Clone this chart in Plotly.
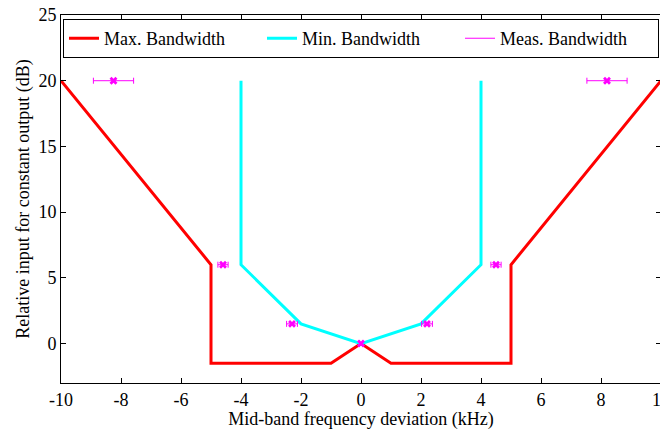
import plotly.graph_objects as go

# Data
max_x = [-10, -5, -5, -1, 0, 1, 5, 5, 10]
max_y = [20, 6, -1.5, -1.5, 0, -1.5, -1.5, 6, 20]
min_x = [-4, -4, -2, 0, 2, 4, 4]
min_y = [20, 6, 1.5, 0, 1.5, 6, 20]
meas_x = [-8.25, -4.6, -2.3, 0, 2.2, 4.5, 8.2]
meas_y = [20, 6, 1.5, 0, 1.5, 6, 20]
meas_err = [0.67, 0.17, 0.18, 0.05, 0.18, 0.17, 0.67]

x_ticks = [-10, -8, -6, -4, -2, 0, 2, 4, 6, 8, 10]
x_labels = ["-10", "-8", "-6", "-4", "-2", "0", "2", "4", "6", "8", "10"]
y_ticks = [0, 5, 10, 15, 20, 25]
y_labels = ["0", "5", "10", "15", "20", "25"]

FONT = "Liberation Serif, Times New Roman, serif"
FS = 18

fig = go.Figure()
fig.add_trace(go.Scatter(x=max_x, y=max_y, mode="lines", name="Max. Bandwidth",
                         line=dict(color="#ff0000", width=3)))
fig.add_trace(go.Scatter(x=min_x, y=min_y, mode="lines", name="Min. Bandwidth",
                         line=dict(color="#00ffff", width=3)))
fig.add_trace(go.Scatter(x=meas_x, y=meas_y, mode="markers", name="Meas. Bandwidth",
                         showlegend=False,
                         marker=dict(symbol="x", size=7, color="#ff00ff",
                                     line=dict(width=0)),
                         error_x=dict(type="data", array=meas_err, visible=True,
                                      color="#ff00ff", thickness=1, width=3)))
fig.add_trace(go.Scatter(x=[None], y=[None], mode="lines", name="Meas. Bandwidth",
                         line=dict(color="#ff00ff", width=1)))

axis_common = dict(showgrid=False, zeroline=False, showline=True, linecolor="black",
                   linewidth=1, mirror="ticks", ticks="inside", ticklen=5,
                   tickcolor="black", ticklabeloverflow="allow", automargin=False,
                   tickfont=dict(family=FONT, size=FS, color="black"))

fig.update_xaxes(range=[-10, 10], tickvals=x_ticks, ticktext=x_labels,
                 title=dict(text="Mid-band frequency deviation (kHz)",
                            font=dict(family=FONT, size=FS, color="black"), standoff=1),
                 **axis_common)
fig.update_yaxes(range=[-3, 25], tickvals=y_ticks, ticktext=y_labels,
                 title=dict(text="Relative input for constant output (dB)",
                            font=dict(family=FONT, size=FS, color="black"), standoff=4),
                 **axis_common)

# the page body has an 8px margin, so the figure is sized to fit the window
fig.update_layout(
    width=660, height=422,
    margin=dict(l=53, r=7, t=7, b=47),
    paper_bgcolor="white", plot_bgcolor="white",
    font=dict(family=FONT, size=FS, color="black"),
    legend=dict(orientation="h", x=0.5, xanchor="center", y=0.989, yanchor="top",
                bgcolor="white", bordercolor="black", borderwidth=1,
                entrywidth=153, entrywidthmode="pixels", tracegroupgap=0,
                font=dict(family=FONT, size=18, color="black")),
    showlegend=True,
)

fig.write_html("out.html")
